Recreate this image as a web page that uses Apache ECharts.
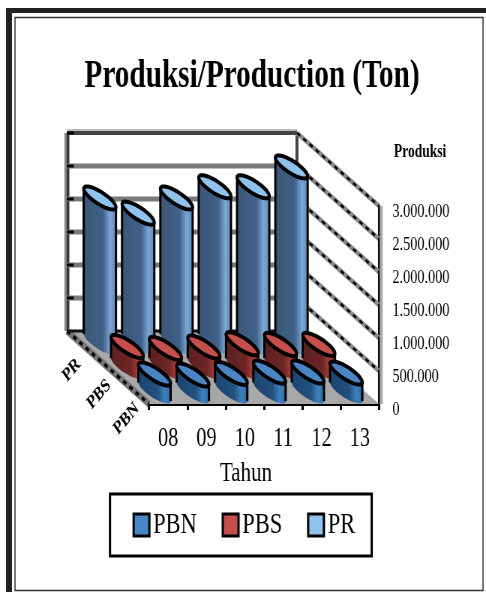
<!DOCTYPE html>
<html><head><meta charset="utf-8">
<style>html,body{margin:0;padding:0;background:#fff;overflow:hidden}
#c{width:648px;height:592px;transform:scaleX(.75);transform-origin:0 0}</style>
<script src="https://cdn.jsdelivr.net/npm/echarts@6/dist/echarts.min.js"></script>
</head><body><div id="c"></div>
<script>
const years = ['08','09','10','11','12','13'];
const PBN = [270000,255000,280000,300000,300000,285000];
const PBS = [320000,290000,310000,360000,350000,350000];
const PR  = [2200000,1970000,2200000,2370000,2370000,2670000];
const yTicks = [0,500000,1000000,1500000,2000000,2500000,3000000];
const rowNames = ['PBN','PBS','PR'];

const S = 0.75;
const FONT = '"Liberation Serif","Times New Roman",serif';
const DEPTH = [-82/S,-73];           // floor depth vector
const ROW = [DEPTH[0]/3,DEPTH[1]/3];
const BAR_W = 0.5, BAR_D = 0.95;
const G = echarts.graphic;

const looks = {
  PBN:{top:'#4a86c6',grad:[[0,'#1d4470'],[.6,'#23527f'],[.82,'#3f82be'],[1,'#2f6a9f']]},
  PBS:{top:'#c64f4c',grad:[[0,'#5e2020'],[.6,'#6d2525'],[.82,'#a53c3a'],[1,'#8b3230']]},
  PR :{top:'#8fc2ec',grad:[[0,'#3b5676'],[.6,'#41618a'],[.82,'#7ca7d4'],[1,'#5f8cba']]}
};

function cylinder(row,name){
  return function(params,api){
    const j = api.value(0), v = api.value(1);
    const w = api.size([1,0])[0]*BAR_W;
    const off = [ROW[0]*(row+.5),ROW[1]*(row+.5)];
    const b = api.coord([j,0]), t = api.coord([j,v]);
    const base=[b[0]+off[0],b[1]+off[1]], top=[t[0]+off[0],t[1]+off[1]];
    const a=w/2, dx=ROW[0]*BAR_D/2, dy=ROW[1]*BAR_D/2;
    const pt=(c,th)=>[c[0]+Math.cos(th)*a+Math.sin(th)*dx,c[1]+Math.sin(th)*dy];
    const th0=Math.atan2(dx,a);
    const ell=[]; for(let i=0;i<40;i++) ell.push(pt(top,i/40*Math.PI*2));
    const front=[]; for(let i=0;i<=20;i++) front.push(pt(base,th0-i/20*Math.PI));
    const body=[pt(top,th0-Math.PI),pt(top,th0)].concat(front);
    const L=looks[name];
    return {type:'group',children:[
      {type:'polygon',shape:{points:body},style:{fill:new G.LinearGradient(0,0,1,0,L.grad.map(s=>({offset:s[0],color:s[1]})))}},
      {type:'polyline',shape:{points:[pt(top,th0),pt(base,th0)]},style:{stroke:'#000',lineWidth:3,fill:null}},
      {type:'polyline',shape:{points:[pt(top,th0-Math.PI),pt(base,th0-Math.PI)]},style:{stroke:'#000',lineWidth:3,fill:null}},
      {type:'polygon',shape:{points:ell},style:{fill:L.top,stroke:'#000',lineWidth:4}}
    ]};
  };
}

function walls(params,api){
  const v=api.value(1), c=api.coord([0,v]), hw=api.size([1,0])[0]/2;
  const xl=c[0]-hw, xr=api.coord([years.length-1,v])[0]+hw, y=c[1];
  const kids=[];
  if(params.dataIndex===0){
    const yTop=api.coord([0,yTicks[yTicks.length-1]])[1];
    const bl=[xl+DEPTH[0],y+DEPTH[1]], br=[xr+DEPTH[0],y+DEPTH[1]];
    const tl=[xl+DEPTH[0],yTop+DEPTH[1]], tr=[xr+DEPTH[0],yTop+DEPTH[1]];
    kids.push({type:'polygon',shape:{points:[tl,tr,br,bl]},style:{fill:'#fff'}});
    kids.push({type:'polygon',shape:{points:[bl,br,[xr,y],[xl,y]]},style:{fill:'#a8a8a8'}});
    kids.push({type:'line',shape:{x1:tl[0],y1:tl[1],x2:bl[0],y2:bl[1]},style:{stroke:'#8a8a8a',lineWidth:7}});
    kids.push({type:'line',shape:{x1:tl[0]+1,y1:tl[1],x2:bl[0]+1,y2:bl[1]},style:{stroke:'#333',lineWidth:3}});
    kids.push({type:'line',shape:{x1:tr[0],y1:tr[1],x2:br[0],y2:br[1]},style:{stroke:'#444',lineWidth:4}});
    kids.push({type:'line',shape:{x1:xr+3,y1:yTop,x2:xr+3,y2:y},style:{stroke:'#aaa',lineWidth:4}});
    kids.push({type:'line',shape:{x1:bl[0],y1:bl[1],x2:xl,y2:y},style:{stroke:'#777',lineWidth:7}});
    kids.push({type:'line',shape:{x1:bl[0],y1:bl[1],x2:xl,y2:y},style:{stroke:'#000',lineWidth:3.5,lineDash:[5,5]}});
    kids.push({type:'line',shape:{x1:bl[0],y1:bl[1],x2:br[0],y2:br[1]},style:{stroke:'#111',lineWidth:3}});
  }
  if(params.dataIndex>0){
    const x1=xl+DEPTH[0], x2=xr+DEPTH[0], yb=y+DEPTH[1];
    const isTop=params.dataIndex===yTicks.length-1;
    kids.push({type:'line',shape:{x1,y1:yb,x2,y2:yb},style:{stroke:isTop?'#444':'#7a7a7a',lineWidth:isTop?4:5}});
    if(isTop) kids.push({type:'line',shape:{x1,y1:yb-3,x2,y2:yb-3},style:{stroke:'#bbb',lineWidth:2}});
    kids.push({type:'line',shape:{x1,y1:yb,x2:x1+9,y2:yb},style:{stroke:'#000',lineWidth:3}});
    kids.push({type:'line',shape:{x1:x2,y1:yb,x2:xr,y2:y},style:{stroke:'#8a8a8a',lineWidth:5}});
    kids.push({type:'line',shape:{x1:x2,y1:yb,x2:xr,y2:y},style:{stroke:'#000',lineWidth:2.5,lineDash:[5,5]}});
  }
  return {type:'group',children:kids};
}

function rowLabels(params,api){
  const i=params.dataIndex, hw=api.size([1,0])[0]/2, c=api.coord([0,0]);
  const x=c[0]-hw+ROW[0]*(i+.5)-12, y=c[1]+ROW[1]*(i+.5)+27;
  return {type:'text',x,y,rotation:42*Math.PI/180,
    style:{text:rowNames[i],font:'bold 19px '+FONT,fill:'#000',textAlign:'center',textVerticalAlign:'middle'}};
}

const px=v=>v/S;
const frame=[
  {type:'rect',shape:{x:px(6),y:8,width:px(480),height:5},style:{fill:'#222'},z:-1},
  {type:'rect',shape:{x:px(6),y:8,width:px(6),height:584},style:{fill:'#222'},z:-1},
  {type:'rect',shape:{x:px(15),y:17.5,width:px(468),height:573},style:{fill:'#fff',stroke:'#333',lineWidth:1.5},z:-1}
];

const chart=echarts.init(document.getElementById('c'),null,{width:648,height:592,renderer:'canvas'});
const mk=(name,row,vals,z)=>({name,type:'custom',z,silent:true,
  itemStyle:{color:looks[name].top},
  data:vals.map((v,i)=>[i,v]),encode:{x:0,y:1},renderItem:cylinder(row,name)});
chart.setOption({
  animation:false,
  backgroundColor:'#fff',
  title:{text:'Produksi/Production (Ton)',left:331,top:52,textAlign:'center',
    textStyle:{fontFamily:FONT,fontWeight:'bold',fontSize:39,color:'#000'}},
  graphic:frame,
  grid:{left:px(149),right:px(107),top:206,bottom:188,containLabel:false},
  xAxis:{type:'category',data:years,name:'Tahun',nameLocation:'middle',nameGap:56,
    nameTextStyle:{fontFamily:FONT,fontSize:28,color:'#000',padding:[0,48,0,0]},
    axisLine:{show:true,lineStyle:{color:'#000',width:3}},
    axisTick:{show:true,alignWithLabel:false,length:6,lineStyle:{color:'#000',width:3}},
    axisLabel:{fontFamily:FONT,fontSize:27,color:'#000',margin:21},splitLine:{show:false}},
  yAxis:{type:'value',position:'right',min:0,max:3000000,interval:500000,
    name:'Produksi',nameLocation:'end',nameGap:45,nameTextStyle:{fontFamily:FONT,fontWeight:'bold',fontSize:18,color:'#000',align:'left',padding:[0,0,0,20]},
    axisLine:{show:true,lineStyle:{color:'#000',width:3}},axisTick:{show:false},splitLine:{show:false},
    axisLabel:{fontFamily:FONT,fontSize:19,color:'#000',margin:18,verticalAlign:'top',lineHeight:12,
      formatter:v=>String(v).replace(/\B(?=(\d{3})+$)/g,'.')}},
  legend:{data:rowNames,left:px(110),top:494,orient:'horizontal',icon:'rect',
    itemWidth:21,itemHeight:22,itemGap:33,padding:[16,22,16,30],
    borderColor:'#000',borderWidth:3,backgroundColor:'#fff',
    itemStyle:{borderColor:'#000',borderWidth:3},
    textStyle:{fontFamily:FONT,fontSize:30,color:'#000'}},
  series:[
    {type:'custom',name:'walls',z:1,silent:true,data:yTicks.map(v=>[0,v]),encode:{x:0,y:1},renderItem:walls},
    mk('PR',2,PR,3),mk('PBS',1,PBS,4),mk('PBN',0,PBN,5),
    {type:'custom',name:'rows',z:6,silent:true,data:rowNames.map(()=>[0,0]),encode:{x:0,y:1},renderItem:rowLabels}
  ]
});
</script></body></html>
